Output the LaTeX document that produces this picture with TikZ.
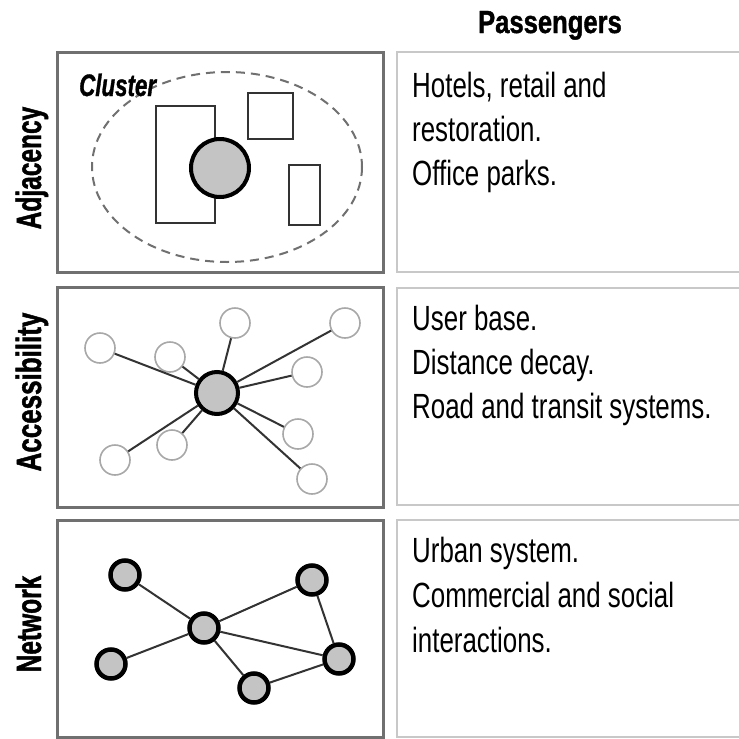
\documentclass[tikz,border=0pt]{standalone}
\usepackage{fontspec}
\setmainfont{Liberation Sans}
\newfontfamily\bodyfont[FakeStretch=0.74]{Liberation Sans}
\newfontfamily\headfont[FakeStretch=0.8,FakeBold=1.2]{Liberation Sans Bold}
\newfontfamily\labfont[FakeStretch=0.7,FakeBold=1.2]{Liberation Sans Bold}
\newfontfamily\clusterfont[FakeStretch=0.72,FakeBold=1]{Liberation Sans Bold Italic}
\definecolor{framegray}{HTML}{707070}
\definecolor{lightframe}{HTML}{C8C8C8}
\definecolor{hubfill}{HTML}{C4C4C4}
\definecolor{edgegray}{HTML}{333333}
\definecolor{satgray}{HTML}{A8A8A8}
\begin{document}
\begin{tikzpicture}[x=1pt,y=-1pt,
  leftframe/.style={draw=framegray, line width=3pt},
  rightframe/.style={draw=lightframe, line width=2.5pt},
  bodytext/.style={anchor=base west, inner sep=0pt, font=\bodyfont\fontsize{35}{44}\selectfont},
  rowlabel/.style={rotate=90, anchor=base, inner sep=0pt, font=\labfont\fontsize{35}{40}\selectfont},
  outline/.style={draw=edgegray, line width=1.5pt},
  bighub/.style={circle, draw=black, line width=4pt, fill=hubfill, inner sep=0pt},
  satnode/.style={circle, draw=satgray, line width=1.6pt, fill=white, inner sep=0pt, minimum size=30pt},
  netnode/.style={circle, draw=black, line width=4.5pt, fill=hubfill, inner sep=0pt, minimum size=29pt},
  link/.style={draw=edgegray, line width=2pt}
]
\useasboundingbox (0,0) rectangle (739,739);
\fill[white] (0,0) rectangle (739,739);

% header
\node[anchor=base, inner sep=0pt, font=\headfont\fontsize{32}{36}\selectfont] (head) at (550,33) {Passengers};

% frames
\draw[leftframe] (57,52) rectangle (383,272);
\draw[leftframe] (57,287) rectangle (383,507);
\draw[leftframe] (57,520) rectangle (383,737);
\draw[rightframe] (397,52) rectangle (760,272);
\draw[rightframe] (397,288) rectangle (760,505);
\draw[rightframe] (397,520) rectangle (760,737);

% row labels
\node[rowlabel] (lab1) at (41,168) {Adjacency};
\node[rowlabel] (lab2) at (41,392) {\scalebox{1.06}[1]{Accessibility}};
\node[rowlabel] (lab3) at (41,624) {Network};

% texts
\node[bodytext] (t11) at (412,97) {Hotels, retail and};
\node[bodytext] (t12) at (412,141) {restoration.};
\node[bodytext] (t13) at (412,185) {Office parks.};
\node[bodytext] (t21) at (412,330) {User base.};
\node[bodytext] (t22) at (412,374) {Distance decay.};
\node[bodytext] (t23) at (412,418) {Road and transit systems.};
\node[bodytext] (t31) at (412,562) {Urban system.};
\node[bodytext] (t32) at (412,607) {Commercial and social};
\node[bodytext] (t33) at (412,652) {interactions.};

% ---- Adjacency panel
\draw[framegray, line width=2pt, dash pattern=on 9pt off 6pt] (227,167) ellipse [x radius=135, y radius=95];
\draw[outline] (156,106) rectangle (215,223);
\draw[outline] (248,93) rectangle (293,139);
\draw[outline] (289,165) rectangle (320,225);
\node[bighub, minimum size=58pt] (h1) at (220,168) {};
\node[anchor=base west, inner sep=0pt, font=\clusterfont\fontsize{31}{34}\selectfont] (cl) at (79,96) {Cluster};

% ---- Accessibility panel
\node[bighub, minimum size=42pt] (h2) at (217,393) {};
\node[satnode] (s1) at (100,348) {};
\node[satnode] (s2) at (170,357) {};
\node[satnode] (s3) at (235,323) {};
\node[satnode] (s4) at (345,323) {};
\node[satnode] (s5) at (307,372) {};
\node[satnode] (s6) at (298,434) {};
\node[satnode] (s7) at (312,479) {};
\node[satnode] (s8) at (172,445) {};
\node[satnode] (s9) at (115,460) {};
\foreach \s in {s1,s2,s3,s4,s5,s6,s7,s8,s9} \draw[link] (h2) -- (\s);

% ---- Network panel
\node[netnode] (na) at (125,575) {};
\node[netnode] (nb) at (312,580) {};
\node[netnode] (nc) at (204,628) {};
\node[netnode] (nd) at (111,664) {};
\node[netnode] (ne) at (339,659) {};
\node[netnode] (nf) at (254,688) {};
\draw[link] (na) -- (nc);
\draw[link] (nc) -- (nb);
\draw[link] (nc) -- (nd);
\draw[link] (nc) -- (ne);
\draw[link] (nc) -- (nf);
\draw[link] (nb) -- (ne);
\draw[link] (nf) -- (ne);
\end{tikzpicture}
\end{document}
